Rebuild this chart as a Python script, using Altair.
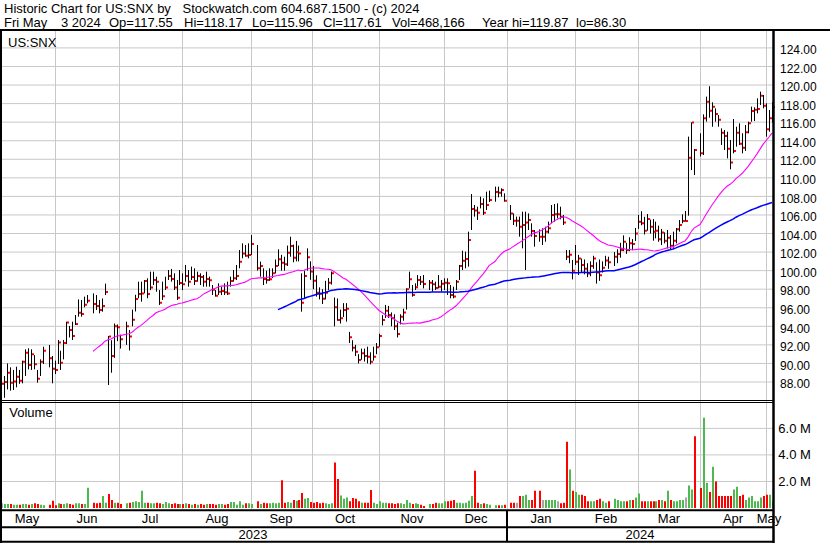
import altair as alt
import pandas as pd

# ---------------- canvas geometry (pixels) ----------------
W, H = 830, 543
SLOT_PX = 2.975            # width of one weekday slot
SLOT0_X = 1.0              # x of the first weekday slot
PLOT_RIGHT = 773.0         # right edge of the plotting panels
PRICE_Y88, PX_PER_DOLLAR = 382.0, 9.28
VOL_Y0, PX_PER_MILLION = 508.0, 13.27

FONT = "Liberation Sans"
GRID = "#c8c8c8"
UP, DOWN, FLAT = "#4fb84f", "#ff0000", "#a6a6a6"

# ---------------- calendar ----------------
FIRST_DAY, LAST_DAY = "2023-05-08", "2024-05-03"
MARKET_HOLIDAYS = [
    "2023-05-29", "2023-06-19", "2023-07-04", "2023-09-04", "2023-11-23",
    "2023-12-25", "2024-01-01", "2024-01-15", "2024-02-19", "2024-03-29",
]

# ---------------- daily bars (one entry per trading day) ----------------
HIGH = [
    # May 2023
    88.93, 88.65, 90.00, 89.58, 89.30, 89.65, 89.30, 90.30, 91.52, 91.63, 91.52, 90.90, 89.30, 90.44, 91.80, 91.99, 90.80,
    # Jun
    90.30, 92.53, 91.37, 92.53, 94.50, 94.03, 94.50, 95.22, 96.90, 96.84, 97.20, 97.37, 97.55, 97.37, 96.84, 97.00, 98.60, 92.96, 92.50, 94.30, 94.20,
    # Jul
    93.10, 94.50, 93.60, 95.80, 97.40, 98.81, 98.81, 98.99, 99.17, 99.89, 99.89, 99.35, 97.91, 98.81, 99.35, 100.07, 100.18, 99.71, 98.99, 100.07,
    # Aug
    99.71, 100.61, 100.07, 100.43, 100.25, 99.89, 99.71, 99.53, 99.89, 99.35, 98.45, 97.91, 98.63, 98.27, 98.63, 98.81, 99.35, 100.07, 100.61, 102.22, 102.94, 102.76, 102.94,
    # Sep
    103.84, 102.76, 100.97, 100.25, 100.00, 100.25, 100.25, 101.20, 102.30, 101.70, 101.50, 102.70, 103.66, 102.80, 103.20, 102.70, 99.71, 100.00, 102.40, 101.00,
    # Oct
    100.50, 99.50, 98.20, 98.00, 98.90, 99.20, 99.90, 97.10, 97.00, 95.80, 96.50, 96.50, 93.40, 92.50, 92.00, 91.00, 91.60, 91.60, 91.80, 91.20, 91.80, 92.20,
    # Nov
    93.20, 95.20, 96.30, 96.20, 95.50, 95.30, 94.40, 95.30, 95.90, 98.10, 99.89, 98.45, 98.63, 99.53, 99.42, 99.53, 98.99, 98.99, 98.81, 99.53, 98.99,
    # Dec
    99.17, 99.17, 98.45, 98.27, 98.99, 100.61, 102.15, 102.05, 104.20, 108.26, 107.07, 106.89, 107.97, 107.79, 108.51, 108.62, 109.05, 109.05, 108.87, 108.33,
    # Jan 2024
    107.07, 106.17, 105.82, 105.82, 106.35, 106.35, 106.17, 105.10, 104.38, 104.45, 104.56, 104.74, 105.28, 107.07, 107.18, 107.25, 106.89, 106.00, 102.22, 102.22, 101.15,
    # Feb
    102.76, 101.70, 101.30, 101.20, 100.80, 101.00, 101.60, 100.90, 101.20, 101.00, 101.60, 101.50, 102.00, 102.30, 103.00, 103.80, 103.00, 103.60, 103.40, 104.60,
    # Mar
    106.00, 106.40, 105.80, 106.10, 105.50, 105.56, 105.28, 104.85, 104.49, 104.13, 104.38, 103.84, 104.20, 104.60, 105.46, 106.07, 106.43, 114.44, 115.98, 113.10,
    # Apr
    114.80, 116.84, 118.75, 119.87, 118.14, 117.49, 116.77, 115.33, 115.15, 114.97, 114.08, 116.34, 115.51, 115.87, 114.80, 115.69, 116.05, 117.67, 117.60, 118.57, 119.29, 118.93,
    # May
    118.03, 117.31, 118.17,
]
LOW = [
    86.60, 86.30, 87.20, 87.07, 87.14, 87.43, 87.80, 87.86, 88.65, 89.36, 89.30, 89.36, 87.93, 88.65, 89.94, 89.58, 87.86,
    88.86, 89.94, 89.30, 90.44, 92.10, 92.80, 92.53, 94.14, 95.04, 95.04, 96.05, 96.48, 95.40, 95.76, 95.40, 95.58, 97.37, 87.68, 89.00, 90.60, 92.40,
    91.60, 92.00, 91.40, 94.00, 95.60, 97.02, 96.66, 97.55, 97.02, 97.90, 98.45, 97.73, 96.30, 96.84, 97.91, 98.99, 98.81, 97.91, 96.84, 98.45,
    97.91, 98.81, 98.27, 98.99, 98.45, 98.81, 98.45, 98.27, 98.27, 98.27, 97.37, 97.20, 97.37, 97.37, 97.37, 97.37, 98.27, 98.81, 98.99, 100.25, 101.33, 101.50, 101.33,
    101.68, 100.00, 99.35, 98.45, 98.60, 98.90, 99.20, 99.70, 100.50, 100.00, 100.00, 100.50, 101.50, 100.90, 101.00, 101.00, 95.58, 97.00, 100.00, 99.00,
    98.00, 97.20, 96.90, 96.40, 96.90, 97.90, 98.50, 94.00, 94.60, 94.30, 95.00, 94.50, 92.20, 91.30, 90.80, 90.00, 90.40, 90.20, 90.00, 89.90, 90.30, 91.00,
    91.80, 94.10, 94.90, 94.90, 94.00, 93.60, 92.80, 94.20, 94.60, 95.80, 98.09, 97.20, 97.91, 98.27, 98.45, 98.09, 97.91, 97.73, 97.91, 98.09, 97.73,
    97.91, 97.38, 97.02, 97.02, 97.91, 98.99, 100.07, 100.25, 100.43, 104.38, 105.82, 105.46, 106.71, 106.00, 106.53, 107.40, 107.43, 107.90, 107.97, 107.43,
    105.46, 104.92, 104.74, 103.66, 102.40, 100.07, 104.38, 103.66, 102.58, 103.12, 102.76, 103.12, 104.02, 105.10, 105.28, 105.64, 105.53, 104.92, 101.15, 100.80, 99.06,
    100.61, 99.53, 99.80, 99.60, 99.30, 99.40, 100.20, 98.60, 98.90, 99.80, 100.50, 100.20, 100.50, 100.80, 101.40, 102.10, 101.80, 102.10, 102.20, 103.20,
    104.50, 104.90, 103.90, 104.30, 104.00, 103.23, 103.48, 103.12, 102.76, 102.94, 102.40, 102.33, 102.48, 102.94, 104.20, 105.10, 105.28, 105.92, 110.84, 110.30,
    112.30, 112.46, 116.05, 116.48, 115.51, 116.05, 115.51, 113.54, 113.00, 112.10, 110.92, 112.64, 113.36, 113.54, 112.64, 112.90, 114.80, 116.05, 116.12, 116.95, 117.85, 117.49,
    114.44, 114.97, 115.96,
]
CLOSE = [
    87.82, 88.00, 89.00, 87.93, 88.05, 88.57, 88.14, 90.19, 91.16, 89.83, 91.00, 89.90, 88.36, 90.19, 91.38, 90.55, 89.44,
    89.30, 92.25, 90.08, 92.20, 94.40, 93.60, 92.96, 94.25, 95.47, 95.33, 96.33, 96.76, 96.40, 96.19, 95.76, 96.19, 97.70, 92.90, 90.80, 94.00, 93.90,
    92.60, 94.00, 92.90, 94.70, 96.94, 97.48, 97.55, 98.88, 97.48, 98.17, 99.00, 98.81, 96.55, 97.23, 98.17, 99.42, 99.10, 98.17, 97.09, 98.67,
    98.52, 99.42, 98.81, 99.31, 98.88, 99.42, 99.31, 98.81, 99.10, 98.96, 97.95, 97.30, 97.73, 97.80, 97.66, 97.55, 98.88, 99.17, 99.42, 100.97, 101.86, 101.61, 101.68,
    102.87, 100.25, 100.50, 99.10, 99.00, 99.06, 99.71, 100.50, 101.22, 100.85, 100.70, 101.94, 102.66, 101.40, 101.97, 101.86, 96.55, 99.42, 101.43, 99.90,
    98.92, 97.63, 97.50, 96.98, 97.63, 98.70, 99.71, 96.05, 94.68, 94.86, 95.76, 95.90, 92.81, 91.70, 91.27, 90.37, 91.09, 90.80, 90.73, 90.19, 90.73, 91.74,
    92.96, 94.68, 95.69, 95.22, 94.86, 94.00, 93.17, 95.04, 95.50, 97.99, 99.06, 97.38, 98.20, 98.99, 98.81, 98.56, 98.70, 98.52, 98.13, 98.27, 98.60,
    98.70, 98.63, 97.38, 97.20, 98.81, 100.50, 101.07, 101.25, 103.30, 106.65, 106.47, 106.25, 107.18, 106.25, 107.07, 107.61, 108.47, 108.40, 108.69, 107.54,
    106.17, 105.38, 105.38, 104.74, 104.92, 105.20, 105.46, 104.27, 103.73, 103.66, 103.66, 104.20, 104.56, 106.00, 106.07, 106.07, 105.82, 105.20, 101.50, 101.70, 100.00,
    100.97, 101.30, 100.60, 100.20, 99.70, 100.50, 101.30, 99.80, 99.50, 100.30, 101.10, 100.90, 101.50, 101.80, 102.22, 103.12, 102.22, 102.94, 102.87, 104.00,
    105.28, 105.10, 104.30, 105.56, 104.74, 104.20, 104.30, 103.37, 104.10, 103.23, 103.55, 102.69, 103.23, 104.45, 104.92, 105.35, 105.35, 112.17, 115.95, 113.00,
    112.64, 116.41, 118.21, 117.24, 117.67, 116.88, 116.27, 114.87, 114.51, 113.14, 111.64, 112.89, 114.87, 113.68, 113.25, 114.90, 115.87, 117.20, 117.35, 117.42, 118.85, 117.78,
    115.23, 116.41, 117.61,
]
VOLUME_M = [
    0.35, 0.30, 0.30, 0.30, 0.25, 0.25, 0.25, 0.30, 0.30, 0.25, 0.30, 0.35, 0.30, 0.25, 0.20, 0.25, 0.55,
    0.20, 0.35, 0.30, 0.30, 0.35, 0.30, 0.25, 0.35, 0.35, 0.30, 0.30, 1.53, 0.40, 0.35, 0.40, 0.90, 0.40, 1.06, 0.60, 0.40, 0.40,
    0.30, 0.35, 0.40, 0.45, 0.50, 0.45, 1.30, 0.40, 0.40, 0.35, 0.35, 0.40, 0.35, 0.30, 0.45, 0.35, 0.30, 0.35, 0.30, 0.30,
    0.30, 0.35, 0.30, 0.25, 0.30, 0.25, 0.30, 0.25, 0.30, 0.30, 0.30, 0.25, 0.30, 0.30, 0.25, 0.30, 0.45, 0.45, 0.25, 0.50, 0.25, 0.35, 0.35,
    0.30, 0.50, 0.30, 0.40, 0.35, 0.35, 0.40, 0.35, 0.40, 2.10, 0.40, 0.45, 0.40, 0.60, 0.55, 0.60, 1.13, 0.70, 0.75, 0.45,
    0.40, 0.45, 0.35, 0.40, 0.35, 0.30, 0.35, 3.42, 2.19, 0.95, 0.70, 0.80, 0.50, 0.75, 0.70, 0.50, 0.40, 0.40, 0.40, 1.36, 0.40, 0.30,
    0.50, 0.40, 0.40, 0.35, 0.35, 0.30, 0.35, 0.35, 0.30, 0.60, 0.40, 0.30, 0.35, 0.30, 0.25, 0.15, 0.30, 0.30, 0.40, 0.35, 0.35,
    0.50, 0.50, 0.55, 0.60, 0.40, 0.40, 0.35, 0.40, 0.55, 0.90, 2.80, 0.40, 0.30, 0.35, 0.30, 0.25, 0.20, 0.20, 0.20, 0.25,
    0.40, 0.40, 0.40, 0.90, 0.90, 1.00, 0.60, 0.60, 1.30, 1.30, 0.60, 0.60, 0.60, 0.60, 0.60, 0.50, 0.35, 0.40, 5.00, 2.90, 1.30,
    1.20, 1.00, 1.00, 0.90, 0.50, 0.50, 0.50, 0.60, 0.70, 0.50, 0.40, 0.50, 0.70, 0.60, 0.50, 0.50, 0.50, 0.60, 0.60, 0.80,
    1.10, 0.50, 0.50, 0.50, 0.50, 0.50, 0.50, 0.60, 0.60, 0.50, 1.30, 0.60, 0.50, 0.50, 0.60, 0.60, 0.80, 1.70, 1.40, 5.40,
    1.50, 6.80, 1.90, 1.20, 3.10, 2.00, 0.90, 0.90, 0.90, 0.90, 0.90, 1.40, 1.60, 0.90, 1.00, 0.60, 0.80, 0.90, 0.50, 0.50, 0.80, 0.90,
    1.00, 1.00, 0.468166,
]
LAST_OPEN = 117.55

PRICE_TICKS = list(range(88, 125, 2))
VOLUME_TICKS = [2, 4, 6]

# ---------------- tables ----------------
weekdays = pd.bdate_range(FIRST_DAY, LAST_DAY)
slot_of = {d.strftime("%Y-%m-%d"): i for i, d in enumerate(weekdays)}
trade_days = [d for d in slot_of if d not in MARKET_HOLIDAYS]
assert len(trade_days) == len(HIGH) == len(LOW) == len(CLOSE) == len(VOLUME_M)

bars = pd.DataFrame({
    "date": trade_days,
    "slot": [slot_of[d] for d in trade_days],
    "high": HIGH, "low": LOW, "close": CLOSE, "vol": VOLUME_M,
})
bars["zero"] = 0.0

# month boundaries: first weekday of each month (half a slot earlier when the 1st is a weekend)
month_starts = pd.date_range("2023-06-01", "2024-05-01", freq="MS")
bounds = []
for m in month_starts:
    first = pd.bdate_range(m, periods=1)[0]
    bounds.append(slot_of[first.strftime("%Y-%m-%d")] - (0.5 if m.weekday() >= 5 else 0.0))

left_slot = (0 - SLOT0_X) / SLOT_PX
right_slot = (PLOT_RIGHT - SLOT0_X) / SLOT_PX
edges = [left_slot] + bounds + [right_slot]
month_names = [pd.Timestamp(FIRST_DAY).strftime("%b")] + [m.strftime("%b") for m in month_starts]
month_labels = pd.DataFrame({
    "s": [(edges[i] + edges[i + 1]) / 2 for i in range(len(month_names))],
    "name": month_names,
})
jan_bound = bounds[[m.month for m in month_starts].index(1)]
year_labels = pd.DataFrame({
    "s": [(left_slot + jan_bound) / 2, (jan_bound + right_slot) / 2],
    "name": ["2023", "2024"],
})

# ---------------- scales ----------------
X_SCALE = alt.Scale(domain=[left_slot, (W - SLOT0_X) / SLOT_PX], nice=False, zero=False, round=True)
P_SCALE = alt.Scale(domain=[88 - (H - PRICE_Y88) / PX_PER_DOLLAR, 88 + PRICE_Y88 / PX_PER_DOLLAR], nice=False, zero=False)
V_SCALE = alt.Scale(domain=[-(H - VOL_Y0) / PX_PER_MILLION, VOL_Y0 / PX_PER_MILLION], nice=False, zero=False)


def xq(field):
    return alt.X(f"{field}:Q", scale=X_SCALE, axis=None)


def py(field):
    return alt.Y(f"{field}:Q", scale=P_SCALE, axis=None)


def vy(field):
    return alt.Y(f"{field}:Q", scale=V_SCALE, axis=None)


ONE = pd.DataFrame({"k": [0]})
base = alt.Chart(bars)

# ---------------- grid ----------------
price_grid = alt.Chart(pd.DataFrame({"p": PRICE_TICKS})).mark_rule(color=GRID, strokeWidth=1).encode(
    y=py("p"), x=alt.value(2), x2=alt.value(PLOT_RIGHT))
vol_grid = alt.Chart(pd.DataFrame({"v": VOLUME_TICKS})).mark_rule(color=GRID, strokeWidth=1).encode(
    y=vy("v"), x=alt.value(2), x2=alt.value(PLOT_RIGHT))
month_grid = alt.Chart(pd.DataFrame({"s": bounds})).mark_rule(color=GRID, strokeWidth=1, xOffset=0.5).encode(
    x=xq("s"), y=alt.value(31), y2=alt.value(509))

# ---------------- price bars ----------------
hl_bars = base.mark_rule(color="black", strokeWidth=1, xOffset=0.5).encode(
    x=xq("slot"), y=py("high"), y2="low:Q")
close_ticks = base.mark_square(size=4, color="#ff0000", opacity=1, xOffset=2).encode(
    x=xq("slot"), y=py("close"))

ma30 = base.transform_window(
    ma="mean(close)", n="count()", frame=[-29, 0], sort=[alt.SortField("slot")]
).transform_filter("datum.n >= 30").mark_line(color="#ff00ff", strokeWidth=1.1).encode(
    x=xq("slot"), y=py("ma"))
ma90 = base.transform_window(
    ma="mean(close)", n="count()", frame=[-89, 0], sort=[alt.SortField("slot")]
).transform_filter("datum.n >= 90").mark_line(color="#0000ff", strokeWidth=1.5).encode(
    x=xq("slot"), y=py("ma"))

# ---------------- volume ----------------
volume = base.transform_window(
    prev="lag(close)", sort=[alt.SortField("slot")]
).transform_calculate(
    dir="datum.prev == null ? 'flat' : (datum.close > datum.prev ? 'up' : (datum.close < datum.prev ? 'down' : 'flat'))"
).mark_rule(strokeWidth=2, xOffset=1).encode(
    x=xq("slot"), y=vy("vol"), y2="zero:Q",
    color=alt.Color("dir:N", scale=alt.Scale(domain=["up", "down", "flat"], range=[UP, DOWN, FLAT]), legend=None),
)


# ---------------- frame ----------------
def hline(y, x1, x2, w):
    return alt.Chart(ONE).mark_rule(color="black", strokeWidth=w).encode(
        x=alt.value(x1), x2=alt.value(x2), y=alt.value(y))


def vline(x, y1, y2, w):
    return alt.Chart(ONE).mark_rule(color="black", strokeWidth=w).encode(
        x=alt.value(x), y=alt.value(y1), y2=alt.value(y2))


frame = [
    hline(30, 0, W, 2),
    vline(1, 30, H, 2),
    vline(PLOT_RIGHT + 0.5, 30, H, 2.5),
    hline(400.5, 0, PLOT_RIGHT, 1),
    hline(402.5, 0, PLOT_RIGHT, 1),
    hline(510.3, 0, PLOT_RIGHT, 2),
    hline(527.3, 0, PLOT_RIGHT, 2),
    hline(541.8, 0, PLOT_RIGHT, 2),
    alt.Chart(pd.DataFrame({"s": [jan_bound]})).mark_rule(color="black", strokeWidth=2).encode(
        x=xq("s"), y=alt.value(510), y2=alt.value(542)),
]

# ---------------- text ----------------
def text_at(txt, x, y, size=13, align="left"):
    return alt.Chart(ONE).mark_text(
        text=txt, font=FONT, fontSize=size, align=align, baseline="alphabetic", color="black"
    ).encode(x=alt.value(x), y=alt.value(y))


vol_last = int(round(VOLUME_M[-1] * 1e6))
header = [
    text_at("Historic Chart for US:SNX by", 4, 12.7),
    text_at("Stockwatch.com 604.687.1500 - (c) 2024", 182.5, 12.7),
    text_at("Fri May", 4, 26.7),
    text_at("3 2024", 61, 26.7),
    text_at(f"Op={LAST_OPEN:.2f}", 109, 26.7),
    text_at(f"Hi={HIGH[-1]:.2f}", 184, 26.7),
    text_at(f"Lo={LOW[-1]:.2f}", 252, 26.7),
    text_at(f"Cl={CLOSE[-1]:.2f}", 323, 26.7),
    text_at(f"Vol={vol_last:,}", 392, 26.7),
    text_at(f"Year hi={max(HIGH):.2f}", 482, 26.7),
    text_at(f"lo={min(LOW):.2f}", 576, 26.7),
    text_at("US:SNX", 8, 46.5),
    text_at("Volume", 9.3, 417.3),
]

price_labels = alt.Chart(pd.DataFrame({"p": PRICE_TICKS, "t": [f"{p:.2f}" for p in PRICE_TICKS]})).mark_text(
    font=FONT, fontSize=12, align="left", baseline="alphabetic", dy=6.2, color="black"
).encode(y=py("p"), x=alt.value(780), text="t:N")
vol_labels = alt.Chart(pd.DataFrame({"v": VOLUME_TICKS, "t": [f"{v:.1f} M" for v in VOLUME_TICKS]})).mark_text(
    font=FONT, fontSize=13, align="left", baseline="alphabetic", dy=4.3, color="black"
).encode(y=vy("v"), x=alt.value(778.3), text="t:N")
month_text = alt.Chart(month_labels).mark_text(
    font=FONT, fontSize=13, align="center", baseline="alphabetic", color="black"
).encode(x=xq("s"), y=alt.value(523.3), text="name:N")
year_text = alt.Chart(year_labels).mark_text(
    font=FONT, fontSize=13, align="center", baseline="alphabetic", color="black"
).encode(x=xq("s"), y=alt.value(539.3), text="name:N")

layers = [price_grid, vol_grid, month_grid, volume, hl_bars, close_ticks, ma30, ma90,
          month_text, year_text] + frame + header + [price_labels, vol_labels]

chart = alt.layer(*layers).resolve_scale(y="independent").properties(
    width=W, height=H, padding=0, background="white",
    autosize=alt.AutoSizeParams(type="none"),
).configure_view(stroke=None, fill="white")

chart.save("out.html", embed_options={"renderer": "svg", "actions": False})
